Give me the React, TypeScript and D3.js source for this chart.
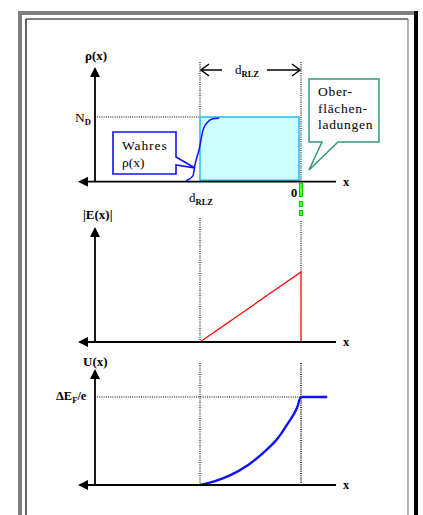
import React from 'react';
import * as d3 from 'd3';

// x in units of the depletion width: d_RLZ = -1, surface = 0
const rhoTrueX = [-1.14, -1.07, -1.05, -1.01, -0.97, -0.93, -0.88, -0.81];
const rhoTrueY = [0.01, 0.09, 0.26, 0.49, 0.8, 0.91, 0.97, 0.98];
const chargeBlock = { x0: -1, x1: 0, nd: 1 };
const fieldX = [-1, 0, 0];
const fieldY = [0, 1, 0];
const potentialX = [-1, -0.85, -0.72, -0.52, -0.38, -0.23, -0.13, -0.04, 0, 0.26];
const potentialY = [0, 0.045, 0.1, 0.23, 0.36, 0.53, 0.7, 0.875, 1, 1];
const boxLines = ['Ober-', 'flächen-', 'ladungen'];

const W = 423;
const H = 515;
const x = d3.scaleLinear().domain([-1, 0]).range([200, 301]);
const axisX = 95;
const axisEnd = 336;

const panels = [
  { base: 181.7, level: 117, tip: 67 },
  { base: 342, level: 272, tip: 227 },
  { base: 485, level: 397, tip: 369 },
];
const ys = panels.map((p) => d3.scaleLinear().domain([0, 1]).range([p.base, p.level]));

const serif = 'Liberation Serif, Times New Roman, serif';

const Axes: React.FC<{ base: number; tip: number }> = ({ base, tip }) => (
  <g>
    <line x1={axisX} x2={axisX} y1={tip + 8} y2={base} stroke="#000" strokeWidth={1.8} />
    <path d={`M${axisX},${tip} L${axisX - 5},${tip + 10} L${axisX + 5},${tip + 10} Z`} fill="#000" />
    <line x1={86} x2={axisEnd} y1={base} y2={base} stroke="#000" strokeWidth={1.8} />
    <path d={`M78,${base} L88,${base - 5} L88,${base + 5} Z`} fill="#000" />
    <text x={343} y={base + 4} fontSize={12.5} fontWeight="bold">
      x
    </text>
  </g>
);

const dotted = { stroke: '#000', strokeWidth: 1.1, strokeDasharray: '1,1.2' };

export default function App() {
  const rhoLine = d3
    .line<number>()
    .x((_, i) => x(rhoTrueX[i]))
    .y((d) => ys[0](d))
    .curve(d3.curveMonotoneX);
  const fieldLine = d3
    .line<number>()
    .x((_, i) => x(fieldX[i]))
    .y((d) => ys[1](d));
  const potLine = d3
    .line<number>()
    .x((_, i) => x(potentialX[i]))
    .y((d) => ys[2](d))
    .curve(d3.curveMonotoneX);

  const x0 = x(chargeBlock.x0);
  const x1 = x(chargeBlock.x1);

  return (
    <svg
      width={W}
      height={H}
      style={{ position: 'absolute', left: 0, top: 0, fontFamily: serif }}
    >
      <rect width={W} height={H} fill="#fff" />
      {/* window frame */}
      <path d="M18,515 V11 H414 V15 H22 V515 Z" fill="#808080" />
      <rect x={414} y={11} width={4} height={504} fill="#000" />
      <line x1={26} x2={26} y1={19} y2={515} stroke="#000" strokeWidth={1.2} />
      <line x1={26} x2={408} y1={19} y2={19} stroke="#000" strokeWidth={1.2} />
      <line x1={408} x2={408} y1={19} y2={515} stroke="#808080" strokeWidth={1.2} />

      {/* panel 1: charge density */}
      <line x1={x0} x2={x0} y1={62} y2={ys[0](1)} {...dotted} />
      <line x1={x1} x2={x1} y1={62} y2={panels[0].base} {...dotted} />
      <line x1={97} x2={x0} y1={ys[0](chargeBlock.nd)} y2={ys[0](chargeBlock.nd)} {...dotted} />
      <rect
        x={x0}
        y={ys[0](chargeBlock.nd)}
        width={x1 - x0 - 2}
        height={ys[0](0) - ys[0](chargeBlock.nd) - 1.5}
        fill="#ccffff"
        stroke="#22bbee"
        strokeWidth={1.5}
      />
      <path d={rhoLine(rhoTrueY) ?? ''} fill="none" stroke="#1010ff" strokeWidth={1.5} />
      <Axes base={panels[0].base} tip={panels[0].tip} />
      <path
        d={`M${x1},${panels[0].base + 1} V197 M${x1},201 V207 M${x1},210 V216`}
        stroke="#00cc00"
        strokeWidth={4}
      />
      <path
        d={`M${x1},${panels[0].base + 2} V196 M${x1},202 V206 M${x1},211 V215`}
        stroke="#88ff66"
        strokeWidth={1.5}
      />
      <text x={85} y={60} fontSize={13} fontWeight="bold">
        ρ(x)
      </text>
      <text x={75} y={122} fontSize={13.5}>
        N<tspan fontSize={8.5} fontWeight="bold" dy={3}>D</tspan>
      </text>
      {/* d_RLZ span arrow */}
      <g stroke="#000" strokeWidth={1.5} fill="none">
        <line x1={x0 + 1} x2={222} y1={70} y2={70} />
        <path d={`M${x0 + 9},64 L${x0 + 1},70 L${x0 + 9},76`} />
        <line x1={267} x2={x1 - 1} y1={70} y2={70} />
        <path d={`M${x1 - 9},64 L${x1 - 1},70 L${x1 - 9},76`} />
      </g>
      <text x={235} y={74} fontSize={13}>
        d<tspan fontSize={8.5} fontWeight="bold" dy={3}>RLZ</tspan>
      </text>
      <text x={189} y={202} fontSize={13}>
        d<tspan fontSize={8.5} fontWeight="bold" dy={3}>RLZ</tspan>
      </text>
      <text x={291} y={197} fontSize={12.5} fontWeight="bold">
        0
      </text>
      {/* callouts */}
      <path
        d="M113,132 H176 V157 L195,168 L176,165 V174 H113 Z"
        fill="#fff"
        stroke="#1010ff"
        strokeWidth={1.6}
      />
      <text x={122} y={150} fontSize={13.5} letterSpacing={0.9}>
        Wahres
      </text>
      <text x={122} y={167} fontSize={13.5}>
        ρ(x)
      </text>
      <path
        d="M309,79 H379 V142 H338 L309,170 L322,142 H309 Z"
        fill="#fff"
        stroke="#339977"
        strokeWidth={1.5}
      />
      {boxLines.map((t, i) => (
        <text key={t} x={318} y={96 + i * 16.5} fontSize={13.5} letterSpacing={0.7}>
          {t}
        </text>
      ))}

      {/* panel 2: field */}
      <line x1={x0} x2={x0} y1={218} y2={panels[1].base} {...dotted} />
      <line x1={x1} x2={x1} y1={221} y2={ys[1](1)} {...dotted} />
      <path d={fieldLine(fieldY) ?? ''} fill="none" stroke="#ff0000" strokeWidth={1.3} />
      <Axes base={panels[1].base} tip={panels[1].tip} />
      <text x={83} y={219} fontSize={13} fontWeight="bold">
        |E(x)|
      </text>

      {/* panel 3: potential */}
      <line x1={x0} x2={x0} y1={363} y2={panels[2].base} {...dotted} />
      <line x1={x1} x2={x1} y1={363} y2={panels[2].base} {...dotted} strokeWidth={1.5} />
      <line x1={97} x2={x1} y1={ys[2](1)} y2={ys[2](1)} {...dotted} />
      <path d={potLine(potentialY) ?? ''} fill="none" stroke="#1010ff" strokeWidth={2.4} />
      <Axes base={panels[2].base} tip={panels[2].tip} />
      <text x={83} y={366} fontSize={13} fontWeight="bold">
        U(x)
      </text>
      <text x={56} y={400} fontSize={12.5} fontWeight="bold">
        ΔE<tspan fontSize={8.5} dy={3}>F</tspan>
        <tspan dy={-3}>/e</tspan>
      </text>
    </svg>
  );
}
